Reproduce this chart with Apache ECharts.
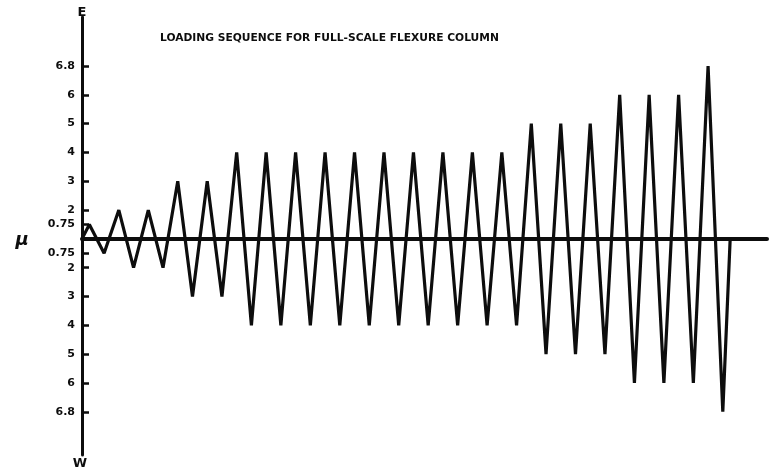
<!DOCTYPE html>
<html>
<head>
<meta charset="utf-8">
<script src="https://cdn.jsdelivr.net/npm/echarts@6/dist/echarts.min.js"></script>
<style>
  html, body { margin: 0; padding: 0; background: #fff; }
  #chart { width: 770px; height: 469px; }
</style>
</head>
<body>
<div id="chart"></div>
<script>
// Ductility amplitude of each loading cycle (push to +mu, then pull to -mu)
const cycleDuctility = [
  0.75,
  2, 2,
  3, 3,
  4, 4, 4, 4, 4, 4, 4, 4, 4, 4,
  5, 5, 5,
  6, 6, 6,
  6.8
];

// Ductility levels marked on the vertical axis
const muTicks = [0.75, 2, 3, 4, 5, 6, 6.8];
// Schematic axis: each level sits one step apart, 0.75 half a step from zero
const muSteps = [0.5, 1, 2, 3, 4, 5, 6];

const titleText = 'LOADING SEQUENCE FOR FULL-SCALE FLEXURE COLUMN';

// piecewise-linear map from ductility to schematic axis step
function toStep(mu) {
  const s = Math.sign(mu), a = Math.abs(mu);
  const xs = [0].concat(muTicks), ys = [0].concat(muSteps);
  for (let i = 1; i < xs.length; i++) {
    if (a <= xs[i]) {
      const t = (a - xs[i - 1]) / (xs[i] - xs[i - 1]);
      return s * (ys[i - 1] + t * (ys[i] - ys[i - 1]));
    }
  }
  return s * ys[ys.length - 1];
}

// history in quarter-cycle units: start at zero, peak, trough, ..., return to zero
const history = [[0, 0]];
cycleDuctility.forEach((mu, i) => {
  history.push([4 * i + 1, toStep(mu)]);
  history.push([4 * i + 3, toStep(-mu)]);
});
history.push([4 * cycleDuctility.length, 0]);

const tickSteps = [];
muSteps.forEach(s => { tickSteps.push(s); tickSteps.push(-s); });
tickSteps.sort((a, b) => a - b);

function stepLabel(v) {
  const i = muSteps.findIndex(s => Math.abs(s - Math.abs(v)) < 1e-6);
  return i >= 0 ? String(muTicks[i]) : '';
}

const chart = echarts.init(document.getElementById('chart'), null, { renderer: 'canvas' });
const ink = '#0d0d0d';
const labelFont = { color: ink, fontFamily: 'DejaVu Sans', fontWeight: 'bold', fontSize: 11 };

chart.setOption({
  animation: false,
  backgroundColor: '#fff',
  title: {
    text: titleText,
    left: 155, top: 28,
    textStyle: { color: ink, fontFamily: 'DejaVu Sans', fontWeight: 'bold', fontSize: 10.7 }
  },
  grid: { left: 82, right: 3, top: 17, bottom: 14, containLabel: false },
  xAxis: {
    type: 'value', min: 0, max: 93,
    axisLine: { show: true, onZero: true, lineStyle: { color: ink, width: 4 } },
    axisTick: { show: false }, axisLabel: { show: false }, splitLine: { show: false }
  },
  yAxis: {
    type: 'value', min: -7.5, max: 7.7,
    axisLine: { show: true, onZero: false, lineStyle: { color: ink, width: 3 } },
    axisTick: { show: true, inside: true, length: 7, customValues: tickSteps, lineStyle: { color: ink, width: 2.5 } },
    axisLabel: Object.assign({ show: true, margin: 7, customValues: tickSteps, formatter: stepLabel }, labelFont),
    splitLine: { show: false }
  },
  series: [{
    type: 'line',
    data: history,
    showSymbol: false,
    symbol: 'none',
    lineStyle: { color: ink, width: 3.2 },
    z: 3
  }]
});

// axis end letters and the mu symbol
const axisTopPx = chart.convertToPixel({ gridIndex: 0 }, [0, 7.7]);
const axisBotPx = chart.convertToPixel({ gridIndex: 0 }, [0, -7.5]);
chart.setOption({
  graphic: [
    { type: 'text', x: axisTopPx[0], y: axisTopPx[1] - 4, style: { text: 'E', fill: ink, font: 'bold 13px "DejaVu Sans"', align: 'center', verticalAlign: 'middle' } },
    { type: 'text', x: axisBotPx[0] - 2, y: axisBotPx[1] + 9, style: { text: 'W', fill: ink, font: 'bold 13px "DejaVu Sans"', align: 'center', verticalAlign: 'middle' } },
    { type: 'text', x: 22, y: 240, style: { text: 'μ', fill: ink, font: 'italic bold 18px "DejaVu Sans"', align: 'center', verticalAlign: 'middle' } }
  ]
});
</script>
</body>
</html>
